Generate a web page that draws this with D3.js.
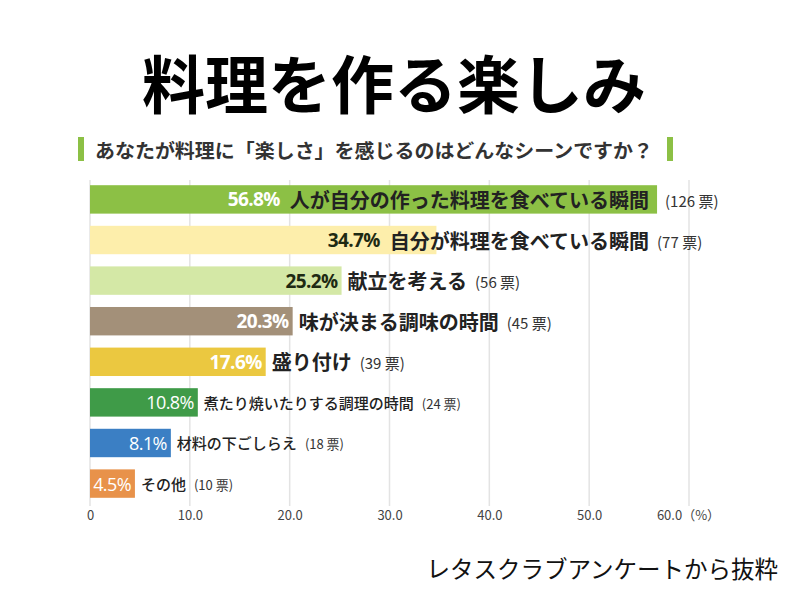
<!DOCTYPE html>
<html><head><meta charset="utf-8">
<script src="https://cdn.jsdelivr.net/npm/d3@7/dist/d3.min.js"></script>
<style>
html,body{margin:0;padding:0;background:#fff;}
svg{display:block;font-family:"Noto Sans CJK JP","Noto Sans",sans-serif;}
</style></head>
<body>
<svg id="chart" width="800" height="600"></svg>
<script>
const title = "料理を作る楽しみ";
const subtitle = "あなたが料理に「楽しさ」を感じるのはどんなシーンですか？";
const source = "レタスクラブアンケートから抜粋";
const categories = ["人が自分の作った料理を食べている瞬間","自分が料理を食べている瞬間","献立を考える","味が決まる調味の時間","盛り付け","煮たり焼いたりする調理の時間","材料の下ごしらえ","その他"];
const percents = [56.8, 34.7, 25.2, 20.3, 17.6, 10.8, 8.1, 4.5];
const votes = [126, 77, 56, 45, 39, 24, 18, 10];
const tickValues = [0, 10, 20, 30, 40, 50, 60];
const tickLabels = ["0", "10.0", "20.0", "30.0", "40.0", "50.0", "60.0（%）"];
const palette = ["#8cc045","#fdeeab","#d4e8a6","#a39079","#ebc840","#3f9b48","#3b7fc4","#e8924a"];

const svg = d3.select("#chart");
const data = categories.map((c,i)=>({cat:c, pct:percents[i], votes:votes[i], i}));

const x = d3.scaleLinear().domain([0,60]).range([90,689]);
const y = d3.scaleBand().domain(categories).range([171,512]).paddingInner(0.3).paddingOuter(0.35);

// Title
svg.append("text").attr("x",394).attr("y",80).attr("text-anchor","middle")
  .attr("dominant-baseline","central").attr("font-size",63).attr("font-weight",700)
  .attr("fill","#000").text(title);

// Subtitle with green markers
svg.append("rect").attr("x",78).attr("y",137).attr("width",6).attr("height",24).attr("fill","#8cc045");
svg.append("rect").attr("x",667).attr("y",137).attr("width",6).attr("height",24).attr("fill","#8cc045");
svg.append("text").attr("x",95).attr("y",149).attr("dominant-baseline","central")
  .attr("font-size",19.5).attr("font-weight",700).attr("fill","#333")
  .attr("textLength",558).attr("lengthAdjust","spacingAndGlyphs").text(subtitle);

// Gridlines
svg.append("g").selectAll("line").data(tickValues).join("line")
  .attr("x1",d=>x(d)).attr("x2",d=>x(d)).attr("y1",180).attr("y2",506)
  .attr("stroke","#e3e3e3").attr("stroke-width",1.5);

// Axis
const axis = d3.axisBottom(x).tickValues(tickValues).tickFormat((d,i)=>tickLabels[i]).tickSize(0).tickPadding(0);
const ax = svg.append("g").attr("transform","translate(0,511)").call(axis);
ax.select(".domain").remove();
ax.selectAll("text").attr("font-size",13).attr("fill","#444")
  .attr("font-family","'Liberation Sans Narrow','Noto Sans CJK JP',sans-serif");
ax.selectAll(".tick text").filter((d,i)=>i===tickValues.length-1).attr("dx",-1);

// Bars
svg.append("g").selectAll("rect").data(data).join("rect")
  .attr("x",x(0)).attr("y",d=>y(d.cat)).attr("width",d=>x(d.pct)-x(0))
  .attr("height",y.bandwidth()).attr("fill",(d,i)=>palette[i]);

// Labels
const limit = x(d3.max(percents)) - 8;
const lg = svg.append("g");
data.forEach((d,i)=>{
  const big = i < 5;
  const fs = big ? 20 : 15;
  const pfs = big ? 19 : 18;
  const cy = y(d.cat) + y.bandwidth()/2;
  const barEnd = x(d.pct);
  const col = palette[i];
  const pctColor = d3.hsl(col).l > 0.7 ? "#1e2a12" : "#fff";
  const pct = lg.append("text").attr("y",cy).attr("dominant-baseline","central")
    .attr("font-size",pfs).attr("font-weight",big?700:500).attr("fill",pctColor)
    .attr("font-family","'Open Sans','Noto Sans',sans-serif").attr("letter-spacing",-0.6)
    .text(d.pct.toFixed(1)+"%");
  const lab = lg.append("text").attr("y",cy).attr("dominant-baseline","central")
    .attr("font-size",fs).attr("font-weight",big?700:500).attr("fill","#222").text(d.cat);
  const pw = pct.node().getComputedTextLength();
  const lw = lab.node().getComputedTextLength();
  const gap = 10;
  let labStart = barEnd + 6;
  if (labStart + lw > limit) labStart = limit - lw;
  let pctEnd = Math.min(barEnd - 3, labStart - gap);
  pct.attr("x", pctEnd - pw);
  lab.attr("x", labStart);
  const labEnd = labStart + lw;
  lg.append("text").attr("x", Math.max(labEnd, barEnd) + 8).attr("y",cy+1)
    .attr("dominant-baseline","central").attr("font-size",big?15:13).attr("fill","#333")
    .text("(" + d.votes + " 票)");
});

// Source
svg.append("text").attr("x",778).attr("y",568).attr("text-anchor","end")
  .attr("dominant-baseline","central").attr("font-size",23.5).attr("fill","#111").text(source);
</script>
</body></html>
